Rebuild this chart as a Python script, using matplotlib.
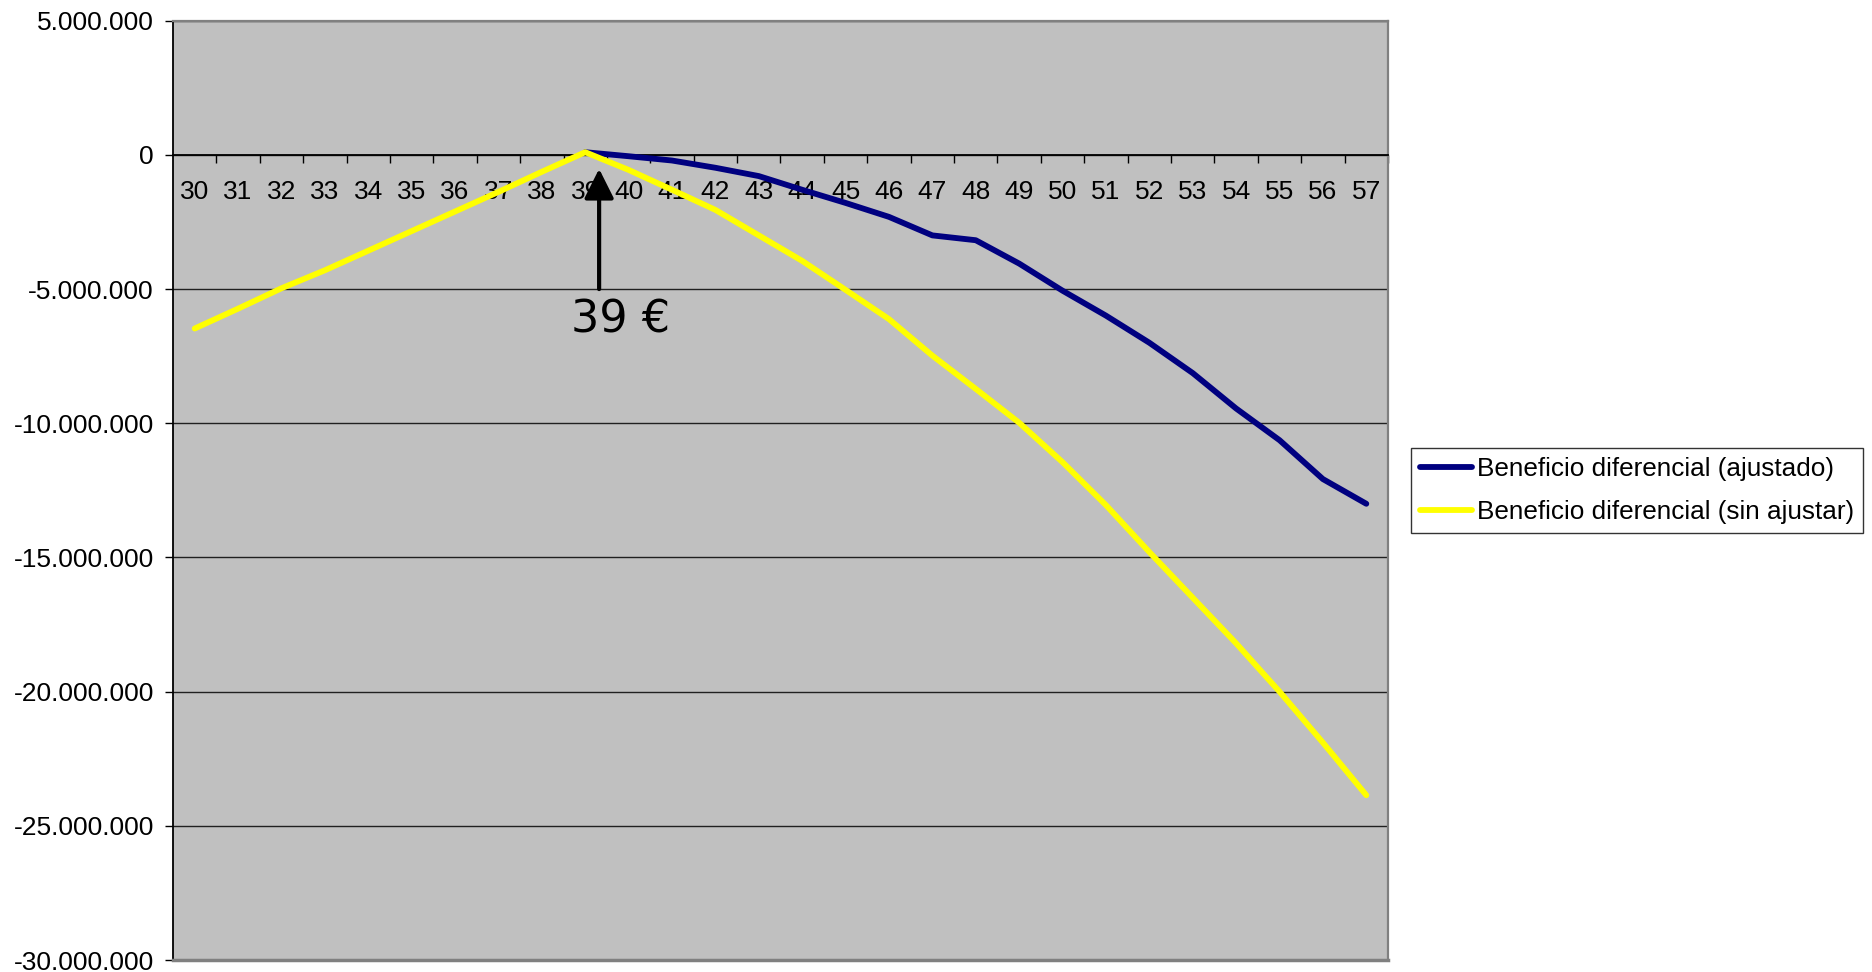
import matplotlib
matplotlib.use('Agg')
import matplotlib.pyplot as plt
from matplotlib.ticker import FuncFormatter
import numpy as np

# ---- data ----
categories = list(range(30, 58))
ajustado = [np.nan] * 9 + [
    100000, -50000, -210000, -480000, -790000, -1300000, -1790000, -2310000,
    -3000000, -3180000, -4050000, -5060000, -5990000, -7000000, -8130000,
    -9450000, -10630000, -12080000, -13000000]
sin_ajustar = [
    -6470000, -5730000, -4970000, -4300000, -3570000, -2840000, -2110000,
    -1380000, -630000, 100000, -560000, -1300000, -2050000, -3000000,
    -3950000, -5030000, -6120000, -7480000, -8720000, -9980000, -11450000,
    -13050000, -14800000, -16500000, -18200000, -20000000, -21900000,
    -23860000]
series_labels = ["Beneficio diferencial (ajustado)",
                 "Beneficio diferencial (sin ajustar)"]
y_ticks = [5000000, 0, -5000000, -10000000, -15000000, -20000000,
           -25000000, -30000000]
annot_text = "39 €"
annot_cat = 39

plt.rcParams['font.family'] = ['Liberation Sans', 'DejaVu Sans']

W, H = 1872, 972
fig = plt.figure(figsize=(W / 100, H / 100), dpi=100)
ax = fig.add_axes([173 / W, 1 - 960 / H, (1388 - 173) / W, (960 - 20.7) / H])
ax.set_facecolor('#C0C0C0')

x = np.arange(len(categories))
LW = 4.2
ax.plot(x, ajustado, color='#000080', lw=LW, solid_capstyle='round',
        solid_joinstyle='round', label=series_labels[0], zorder=3)
ax.plot(x, sin_ajustar, color='#FFFF00', lw=LW, solid_capstyle='round',
        solid_joinstyle='round', label=series_labels[1], zorder=4)

ax.set_xlim(-0.5, len(categories) - 0.5)
ax.set_ylim(min(y_ticks), max(y_ticks))

FS = 19
# y axis
ax.set_yticks(y_ticks)
ax.yaxis.set_major_formatter(FuncFormatter(
    lambda v, p: f"{int(round(v)):,}".replace(",", ".")))
ax.tick_params(axis='y', direction='out', length=5.8, width=1.0,
               labelsize=FS, pad=8, color='black')
ax.yaxis.grid(True, color='#202020', lw=1.0)
ax.set_axisbelow(True)

# x axis crossing at 0
ax.spines['bottom'].set_position(('data', 0))
ax.spines['bottom'].set_color('black')
ax.spines['bottom'].set_linewidth(1.3)
ax.spines['left'].set_color('black')
ax.spines['left'].set_linewidth(1.3)
for s in ('top', 'right'):
    ax.spines[s].set_color('#808080')
    ax.spines[s].set_linewidth(1.6)
ax.set_xticks(np.arange(0.5, len(categories), 1.0))
ax.set_xticklabels([])
ax.set_xticks(x, labels=[str(c) for c in categories], minor=True)
ax.tick_params(axis='x', which='major', direction='out', length=5.8,
               width=1.0, color='black')
ax.tick_params(axis='x', which='minor', length=0, labelsize=FS, pad=18)
# bottom border of plot area
ax.axhline(min(y_ticks), color='#808080', lw=2.5, clip_on=False, zorder=5)

# annotation arrow
ix = categories.index(annot_cat)
ax.annotate('', xy=(ix + 0.32, -520000), xytext=(ix + 0.32, -5000000),
            arrowprops=dict(arrowstyle='-|>', lw=3, color='black',
                            mutation_scale=45, shrinkA=0, shrinkB=0),
            zorder=6)
ax.text(ix + 0.82, -6150000, annot_text, fontsize=32, ha='center',
        va='center', family=['DejaVu Sans'], zorder=6)

leg = fig.legend(loc='upper left', bbox_to_anchor=(1411 / W, 1 - 448 / H),
                 bbox_transform=fig.transFigure, frameon=True, fancybox=False,
                 fontsize=18.8, handlelength=2.0, handletextpad=0.18,
                 labelspacing=0.72, borderpad=0.35, borderaxespad=0)
leg.get_frame().set_edgecolor('black')
leg.get_frame().set_linewidth(1.0)
for line in leg.get_lines():
    line.set_linewidth(LW)

fig.savefig('out.png', dpi=100)
